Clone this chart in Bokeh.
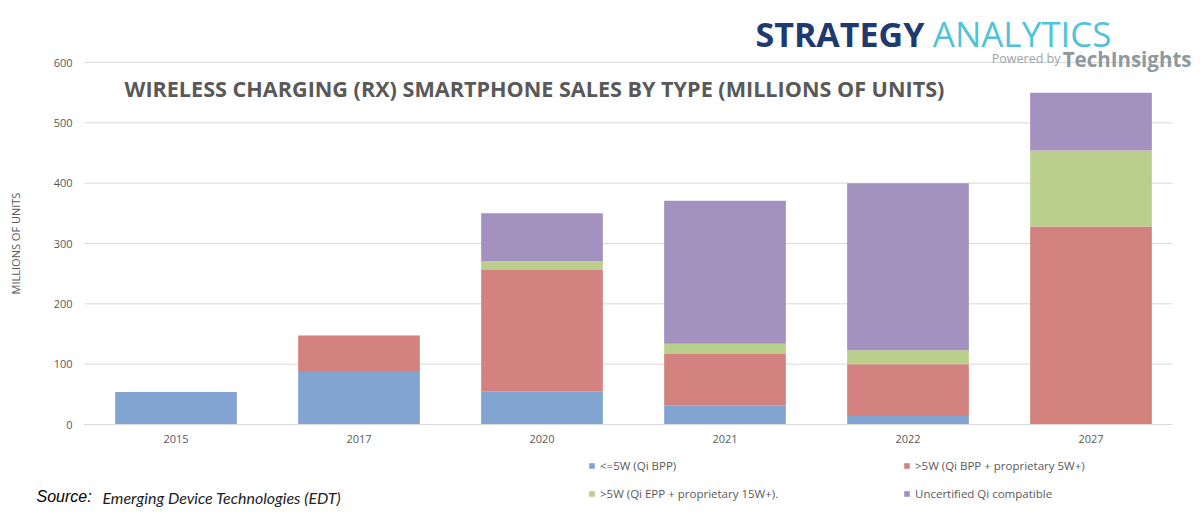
from bokeh.plotting import figure
from bokeh.models import Label, Legend, LegendItem, Range1d, FixedTicker
from bokeh.embed import file_html
from bokeh.resources import INLINE

years = ["2015", "2017", "2020", "2021", "2022", "2027"]
le5w = [54, 87, 55, 32, 14, 0]
gt5w_bpp = [0, 60, 201, 85, 86, 328]
gt5w_epp = [0, 1.5, 15, 17, 23, 126]
uncert = [0, 0, 79, 237, 277, 96]
series = ["le5w", "gt5w_bpp", "gt5w_epp", "uncert"]
series_labels = ["<=5W (Qi BPP)", ">5W (Qi BPP + proprietary 5W+)",
                 ">5W (Qi EPP + proprietary 15W+).", "Uncertified Qi compatible"]
colors = ["#82A4D0", "#D38280", "#BACF8B", "#A391BF"]
yticks = [0, 100, 200, 300, 400, 500, 600]

# page geometry (pixels): figure at page (0, 0); plot area x 84..1182, y 62..424
W, H = 1192, 510
FIG_X, FIG_Y = 0, 0
X0, XS = 84, 183.0          # page x of left edge of first category, px per category
Y0, YS = 424, 362 / 600.0   # page y of value 0, px per unit

def dx(px):
    return (px - X0) / XS - 0.5

def dy(py):
    return (Y0 - py) / YS

xpos = list(range(len(years)))
p = figure(x_range=Range1d(dx(FIG_X), dx(FIG_X + W)), y_range=Range1d(dy(FIG_Y + H), dy(FIG_Y)),
           width=W, height=H, output_backend="svg", toolbar_location=None,
           min_border_left=0, min_border_right=0, min_border_top=0, min_border_bottom=0)
p.outline_line_color = None
p.background_fill_color = "white"
p.border_fill_color = "white"
p.xgrid.visible = False
p.ygrid.visible = False

# horizontal gridlines over the plot area
grid_x0, grid_x1 = dx(84), dx(1172)
p.segment(x0=grid_x0, x1=grid_x1, y0=yticks, y1=yticks, line_color="#D9D9D9", line_width=1)

data = dict(x=xpos, le5w=le5w, gt5w_bpp=gt5w_bpp, gt5w_epp=gt5w_epp, uncert=uncert)
rs = p.vbar_stack(series, x="x", width=0.665, color=colors, line_color=None, source=data)

# y axis drawn at left edge of plot area
p.yaxis.fixed_location = dx(84)
p.yaxis.ticker = FixedTicker(ticks=yticks)
p.yaxis.bounds = (0, 600)
p.yaxis.axis_line_color = None
p.yaxis.major_tick_line_color = None
p.yaxis.minor_tick_line_color = None
p.yaxis.major_tick_out = 0
p.yaxis.major_tick_in = 0
p.yaxis.major_label_text_font = "Open Sans"
p.yaxis.major_label_text_font_size = "11px"
p.yaxis.major_label_text_color = "#595959"
p.yaxis.major_label_standoff = 12
p.yaxis.axis_label = "MILLIONS OF UNITS"
p.yaxis.axis_label_text_font = "Open Sans"
p.yaxis.axis_label_text_font_style = "normal"
p.yaxis.axis_label_text_font_size = "11px"
p.yaxis.axis_label_text_color = "#595959"
p.yaxis.axis_label_standoff = 28

# x axis drawn at value 0
p.xaxis.fixed_location = 0
p.xaxis.ticker = FixedTicker(ticks=xpos)
p.xaxis.major_label_overrides = {i: y for i, y in zip(xpos, years)}
p.xaxis.bounds = (grid_x0, grid_x1)
p.xaxis.axis_line_color = "#D9D9D9"
p.xaxis.major_tick_line_color = None
p.xaxis.minor_tick_line_color = None
p.xaxis.major_tick_out = 0
p.xaxis.major_tick_in = 0
p.xaxis.major_label_text_font = "Open Sans"
p.xaxis.major_label_text_font_size = "11px"
p.xaxis.major_label_text_color = "#595959"
p.xaxis.major_label_standoff = 10

def add_text(px, py, text, size, color, font="Open Sans", style="normal",
             align="left", baseline="alphabetic"):
    p.add_layout(Label(x=dx(px), y=dy(py), text=text, text_font=font, text_font_style=style,
                       text_font_size=size, text_color=color, text_align=align,
                       text_baseline=baseline))

add_text(124, 88, "WIRELESS CHARGING (RX) SMARTPHONE SALES BY TYPE (MILLIONS OF UNITS)",
         "21.6px", "#595959", style="bold", baseline="middle")

# logo
add_text(755, 33, "STRATEGY", "34px", "#1F3A6E", style="bold")
add_text(1111, 33, "ANALYTICS", "35px", "#4FC3DA", align="right")
add_text(1060, 58, "Powered by", "12.5px", "#9AA3A8", align="right")
add_text(1191, 58, "TechInsights", "20.5px", "#8E999E", style="bold", align="right")

# source
add_text(36, 496, "Source:", "16px", "#000000", font="Liberation Sans", style="italic")
add_text(102, 497, "Emerging Device Technologies (EDT)", "16px", "#222222",
         font="Lato", style="italic")

def mk_legend(idx, px, py_bottom):
    return Legend(items=[LegendItem(label=series_labels[i], renderers=[rs[i]]) for i in idx],
                  location=(px - FIG_X, FIG_Y + H - py_bottom), orientation="vertical",
                  background_fill_alpha=0, border_line_alpha=0,
                  glyph_width=7, glyph_height=7, label_height=14, label_standoff=5,
                  label_text_font="Open Sans", label_text_font_size="11.5px",
                  label_text_color="#595959", spacing=13, padding=0, margin=0)

p.add_layout(mk_legend([0, 2], 588, 501))
p.add_layout(mk_legend([1, 3], 903, 501))

open("out.html", "w").write(file_html(p, INLINE))
